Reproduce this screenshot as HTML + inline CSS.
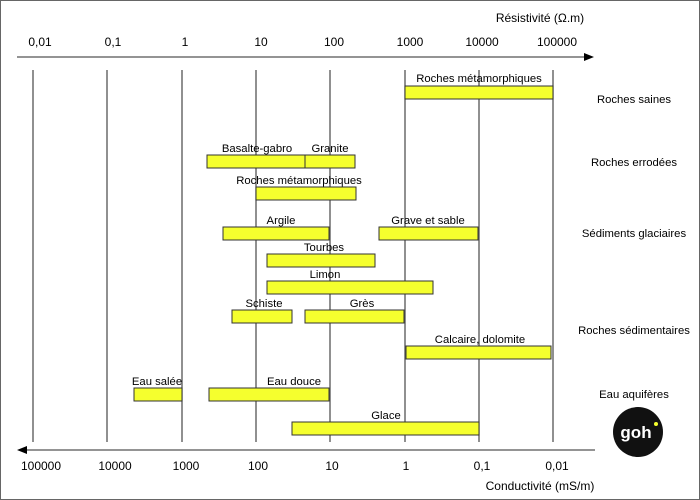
<!DOCTYPE html>
<html><head><meta charset="utf-8"><style>html,body{margin:0;padding:0;background:#fff}svg{display:block}</style></head><body>
<svg width="700" height="500" viewBox="0 0 700 500" xmlns="http://www.w3.org/2000/svg" font-family="Liberation Sans, Arial, sans-serif" font-size="12" fill="#000">
<rect x="0.5" y="0.5" width="699" height="499" fill="#fff" stroke="#666"/>
<g stroke="#555" stroke-width="1.3">
<line x1="33" y1="70" x2="33" y2="442"/><line x1="107" y1="70" x2="107" y2="442"/><line x1="182" y1="70" x2="182" y2="442"/><line x1="256" y1="70" x2="256" y2="442"/><line x1="330" y1="70" x2="330" y2="442"/><line x1="405" y1="70" x2="405" y2="442"/><line x1="479" y1="70" x2="479" y2="442"/><line x1="553" y1="70" x2="553" y2="442"/>
<line x1="17" y1="57" x2="585" y2="57"/><line x1="25" y1="450" x2="595" y2="450"/>
</g>
<polygon points="584,53 594,57 584,61" fill="#000"/>
<polygon points="27,446 17,450 27,454" fill="#000"/>
<g text-anchor="middle">
<text x="540" y="22">Résistivité (Ω.m)</text>
<text x="40" y="46">0,01</text><text x="113" y="46">0,1</text><text x="185" y="46">1</text><text x="261" y="46">10</text><text x="334" y="46">100</text><text x="410" y="46">1000</text><text x="482" y="46">10000</text><text x="557" y="46">100000</text>
<text x="41" y="470">100000</text><text x="115" y="470">10000</text><text x="186" y="470">1000</text><text x="258" y="470">100</text><text x="332" y="470">10</text><text x="406" y="470">1</text><text x="482" y="470">0,1</text><text x="557" y="470">0,01</text>
<text x="540" y="490">Conductivité (mS/m)</text>
</g>
<g fill="#f5ff2e" stroke="#333" stroke-width="1">
<rect x="405" y="86" width="148" height="13"/>
<rect x="207" y="155" width="98" height="13"/><rect x="305" y="155" width="50" height="13"/>
<rect x="256" y="187" width="100" height="13"/>
<rect x="223" y="227" width="106" height="13"/><rect x="379" y="227" width="99" height="13"/>
<rect x="267" y="254" width="108" height="13"/>
<rect x="267" y="281" width="166" height="13"/>
<rect x="232" y="310" width="60" height="13"/><rect x="305" y="310" width="99" height="13"/>
<rect x="406" y="346" width="145" height="13"/>
<rect x="134" y="388" width="48" height="13"/><rect x="209" y="388" width="120" height="13"/>
<rect x="292" y="422" width="187" height="13"/>
</g>
<g text-anchor="middle" font-size="11.3">
<text x="479" y="82">Roches métamorphiques</text>
<text x="257" y="152">Basalte-gabro</text><text x="330" y="152">Granite</text>
<text x="299" y="184">Roches métamorphiques</text>
<text x="281" y="224">Argile</text><text x="428" y="224">Grave et sable</text>
<text x="324" y="251">Tourbes</text>
<text x="325" y="278">Limon</text>
<text x="264" y="307">Schiste</text><text x="362" y="307">Grès</text>
<text x="480" y="343">Calcaire, dolomite</text>
<text x="157" y="385">Eau salée</text><text x="294" y="385">Eau douce</text>
<text x="386" y="419">Glace</text>
</g>
<g text-anchor="middle" font-size="11.3">
<text x="634" y="103">Roches saines</text>
<text x="634" y="166">Roches errodées</text>
<text x="634" y="237">Sédiments glaciaires</text>
<text x="634" y="334">Roches sédimentaires</text>
<text x="634" y="398">Eau aquifères</text>
</g>
<circle cx="638" cy="432" r="25" fill="#111"/>
<text x="636" y="438" text-anchor="middle" fill="#fff" font-size="17" font-weight="bold">goh</text>
<circle cx="656" cy="424" r="2" fill="#f5ff2e"/>
</svg>
</body></html>
